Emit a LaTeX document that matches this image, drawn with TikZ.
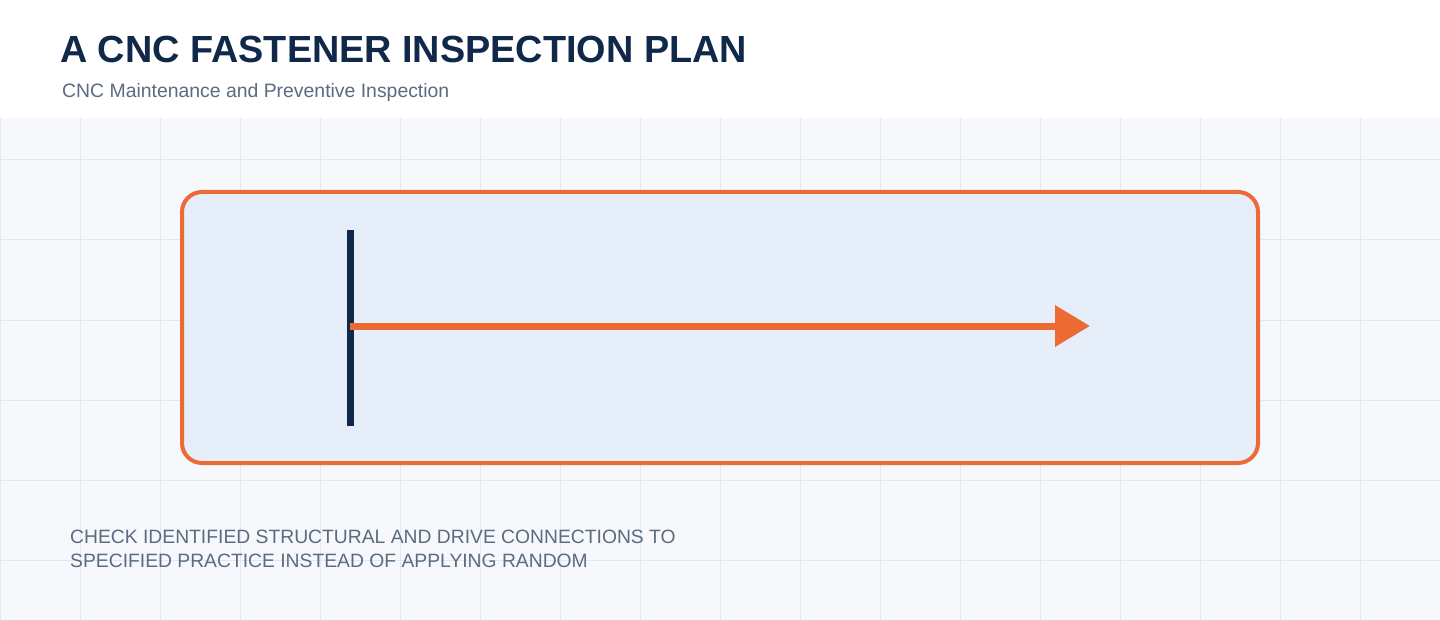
\documentclass[tikz,border=0pt]{standalone}
\usepackage{fontspec}
\setmainfont{Liberation Sans}
\usetikzlibrary{arrows.meta}
\definecolor{navy}{HTML}{10284A}
\definecolor{orng}{HTML}{EC6A34}
\definecolor{slate}{HTML}{5B6B80}
\definecolor{gridbg}{HTML}{F6F8FC}
\definecolor{gridln}{HTML}{E3E7EE}
\definecolor{boxfill}{HTML}{E6EEF9}
\tikzset{
  gridline/.style={draw=gridln, line width=1pt},
  panel/.style={draw=orng, fill=boxfill, line width=4pt, rounded corners=20pt, outer sep=0pt},
  barline/.style={draw=navy, line width=7pt},
  flowarrow/.style={draw=orng, line width=7pt, -{Triangle[length=35pt,width=40pt]}, shorten >=-2pt},
  titletext/.style={anchor=base west, inner sep=0pt, text=navy, font=\fontsize{37.8}{40}\selectfont\bfseries},
  subtext/.style={anchor=base west, inner sep=0pt, text=slate, font=\fontsize{19.4}{22}\selectfont},
  bodytext/.style={anchor=base west, inner sep=0pt, text=slate, font=\fontsize{19.3}{24}\selectfont}
}
\begin{document}
\begin{tikzpicture}[x=1pt,y=-1pt]
\useasboundingbox (0,0) rectangle (1440,620);
\fill[white] (0,0) rectangle (1440,118);
\fill[gridbg] (0,118) rectangle (1440,620);
\foreach \gx in {0,80,...,1440} { \draw[gridline] (\gx,118) -- (\gx,620); }
\foreach \gy in {160,240,...,560} { \draw[gridline] (0,\gy) -- (1440,\gy); }
\node[titletext] (title) at (60,63) {A CNC FASTENER INSPECTION PLAN};
\node[subtext] (sub) at (62,98) {CNC Maintenance and Preventive Inspection};
\node[panel, minimum width=1076pt, minimum height=271pt, anchor=north west] (box) at (182,192) {};
\coordinate (bartop) at (350,230);
\coordinate (barbot) at (350,426);
\draw[barline] (bartop) -- (barbot);
\coordinate (astart) at (350,326);
\coordinate (aend) at (1088,326);
\draw[flowarrow] (astart) -- (aend);
\node[bodytext] (body1) at (70,543) {CHECK IDENTIFIED STRUCTURAL AND DRIVE CONNECTIONS TO};
\node[bodytext] (body2) at (70,567) {SPECIFIED PRACTICE INSTEAD OF APPLYING RANDOM};
\end{tikzpicture}
\end{document}
